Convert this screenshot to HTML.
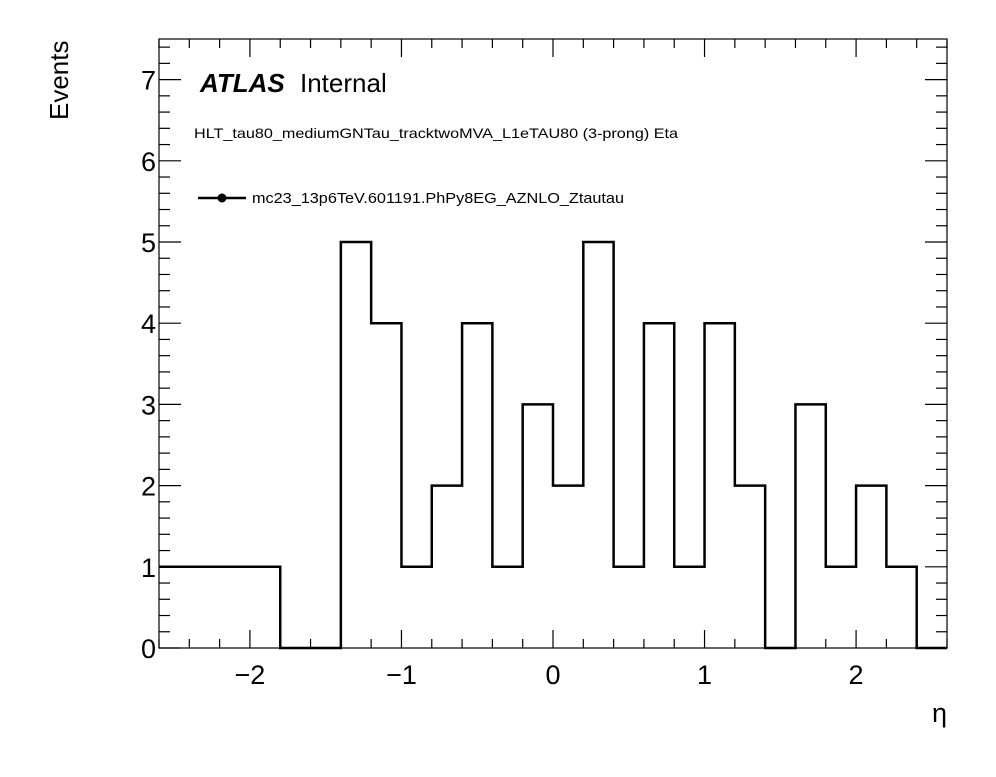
<!DOCTYPE html>
<html><head><meta charset="utf-8"><style>
body{margin:0;background:#fff;}
svg text{font-family:"Liberation Sans",sans-serif;}
</style></head><body>
<svg id="c" width="996" height="772" xmlns="http://www.w3.org/2000/svg">
<rect x="0" y="0" width="996" height="772" fill="#fff"/>
<g id="ticks"></g>
<path id="hist" fill="none" stroke="#000" stroke-width="2.5"/>
<rect x="159" y="39" width="788" height="609" fill="none" stroke="#000" stroke-width="1.2"/>
<g id="xlabels"></g>
<g id="ylabels"></g>
<text x="947" y="722" font-size="27" text-anchor="end">η</text>
<text transform="translate(68,120) rotate(-90)" font-size="26">Events</text>
<text x="200" y="92" font-size="26" font-weight="bold" font-style="italic">ATLAS</text>
<text x="300" y="92" font-size="26">Internal</text>
<text x="194" y="138" font-size="14" textLength="484" lengthAdjust="spacingAndGlyphs">HLT_tau80_mediumGNTau_tracktwoMVA_L1eTAU80 (3-prong) Eta</text>
<g>
<line x1="198" y1="198" x2="246" y2="198" stroke="#000" stroke-width="2.5"/>
<circle cx="222" cy="198" r="4.5" fill="#000"/>
<text x="252" y="203" font-size="14.5" textLength="372" lengthAdjust="spacingAndGlyphs">mc23_13p6TeV.601191.PhPy8EG_AZNLO_Ztautau</text>
</g>
</svg>
<script>
const edges=[-2.6,-1.8,-1.4,-1.2,-1.0,-0.8,-0.6,-0.4,-0.2,0,0.2,0.4,0.6,0.8,1.0,1.2,1.4,1.6,1.8,2.0,2.2,2.4,2.6];
const counts=[1,0,5,4,1,2,4,1,3,2,5,1,4,1,4,2,0,3,1,2,1,0];
const xTicks=[-2,-1,0,1,2];
const xTickLabels=["\u22122","\u22121","0","1","2"];
const yTicks=[0,1,2,3,4,5,6,7];
const X0=159,X1=947,Y0=648,Y1=39,xmin=-2.6,xmax=2.6,ymin=0,ymax=7.5;
const sx=v=>X0+(v-xmin)/(xmax-xmin)*(X1-X0);
const sy=v=>Y0-(v-ymin)/(ymax-ymin)*(Y0-Y1);
let d="M"+sx(edges[0])+","+sy(counts[0]);
for(let i=0;i<counts.length;i++){
  if(i>0)d+=" L"+sx(edges[i])+","+sy(counts[i]);
  d+=" L"+sx(edges[i+1])+","+sy(counts[i]);
}
document.getElementById('hist').setAttribute('d',d);
const NS="http://www.w3.org/2000/svg";
const tg=document.getElementById('ticks');
function ln(x1,y1,x2,y2){const l=document.createElementNS(NS,'line');l.setAttribute('x1',x1);l.setAttribute('y1',y1);l.setAttribute('x2',x2);l.setAttribute('y2',y2);l.setAttribute('stroke','#000');l.setAttribute('stroke-width','1.2');tg.appendChild(l);}
for(let k=-13;k<=13;k++){const v=k*0.2;const x=sx(v);const maj=Math.abs(v-Math.round(v))<1e-6;const L=maj?18:9;ln(x,Y0,x,Y0-L);ln(x,Y1,x,Y1+L);}
for(let k=0;k<=37;k++){const v=k*0.2;const y=sy(v);const maj=Math.abs(v-Math.round(v))<1e-6;const L=maj?22:11;ln(X0,y,X0+L,y);ln(X1,y,X1-L,y);}
const xl=document.getElementById('xlabels');
xTicks.forEach((v,i)=>{const t=document.createElementNS(NS,'text');t.setAttribute('x',sx(v));t.setAttribute('y',Y0+36);t.setAttribute('font-size','27');t.setAttribute('text-anchor','middle');t.textContent=xTickLabels[i];


xl.appendChild(t);});
const yl=document.getElementById('ylabels');
yTicks.forEach(v=>{const t=document.createElementNS(NS,'text');t.setAttribute('x',X0-3);t.setAttribute('y',sy(v)+10);t.setAttribute('font-size','27');t.setAttribute('text-anchor','end');t.textContent=v;


yl.appendChild(t);});
</script>
</body></html>
